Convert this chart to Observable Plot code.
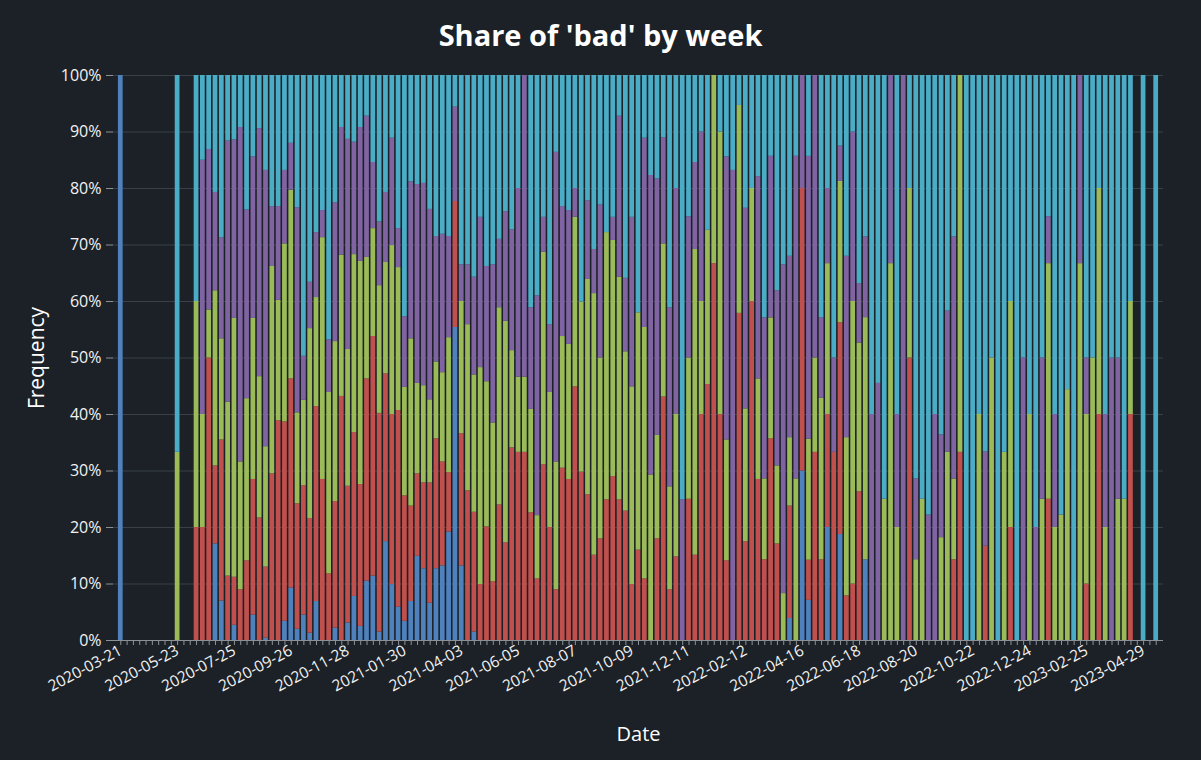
<!DOCTYPE html>
<html>
<head>
<meta charset="utf-8">
<script src="https://cdn.jsdelivr.net/npm/d3@7"></script>
<script src="https://cdn.jsdelivr.net/npm/@observablehq/plot@0.6"></script>
<style>
  html, body { margin: 0; padding: 0; background: #1b2127; }
  #wrap { width: 1201px; height: 760px; overflow: hidden; background: #1b2127; font-family: "Open Sans", Lato, sans-serif; }
  #title { height: 60px; box-sizing: border-box; padding-top: 12px; text-align: center; color: #ffffff; font-weight: 700; font-size: 29px; line-height: 46px; }
</style>
</head>
<body>
<div id="wrap">
  <div id="title">Share of 'bad' by week</div>
  <div id="chart"></div>
</div>
<script>
// ---- data ----
const startWeek = "2020-03-21";
const weekCount = 165;
const seriesNames = ["Type 1", "Type 2", "Type 3", "Type 4", "Type 5"];
const seriesColors = ["#4F81BD", "#C0504D", "#9BBB59", "#8064A2", "#4BACC6"];
const tickLabels = ["2020-03-21","2020-05-23","2020-07-25","2020-09-26","2020-11-28","2021-01-30","2021-04-03","2021-06-05","2021-08-07","2021-10-09","2021-12-11","2022-02-12","2022-04-16","2022-06-18","2022-08-20","2022-10-22","2022-12-24","2023-02-25","2023-04-29"];

// week offsets (weeks since startWeek) that have data
const weekOffsets = [0, 9,
  12,13,14,15,16,17,18,19,20,21,
  22,23,24,25,26,27,28,29,30,31,
  32,33,34,35,36,37,38,39,40,41,
  42,43,44,45,46,47,48,49,50,51,
  52,53,54,55,56,57,58,59,60,61,
  62,63,64,65,66,67,68,69,70,71,
  72,73,74,75,76,77,78,79,80,81,
  82,83,84,85,86,87,88,89,90,91,
  92,93,94,95,96,97,98,99,100,101,
  102,103,104,105,106,107,108,109,110,111,
  112,113,114,115,116,117,118,119,120,121,
  122,123,124,125,126,127,128,129,130,131,
  132,133,134,135,136,137,138,139,140,141,
  142,143,144,145,146,147,148,149,150,151,
  152,153,154,155,156,157,158,159,160,
  162,164];

const blue = [100, 0,
  0,0,0,17.1,7.0,0,2.7,0,0,4.5,
  0,0.4,0,0,3.4,9.3,2.0,4.5,1.3,6.9,
  0,0,2.2,0,3.1,7.8,2.5,10.5,11.4,1.5,
  17.5,9.9,5.9,3.4,6.9,14.9,12.7,6.6,12.7,13.2,
  19.2,55.4,13.2,0,1.5,0,0,0,0,0,
  0,0,0,0,0,0,0,0,0,0,
  0,0,0,0,0,0,0,0,0,0,
  0,0,0,0,0,0,0,0,0,0,
  0,0,0,0,0,0,0,0,0,0,
  0,0,0,0,3.9,0,30,7.1,0,0,
  20,0,18.75,0,0,0,14.3,0,0,0,
  0,0,0,0,0,0,0,0,0,0,
  0,0,0,0,0,0,0,0,0,0,
  0,0,0,0,0,0,0,0,0,0,
  0,0,0,0,0,0,0,0,0,
  0,0];

const red = [0, 0,
  20,20,50,13.8,28.5,11.4,8.5,9.0,14.1,24.0,
  21.7,12.6,29.5,38.9,35.3,37.0,22.2,22.9,20.3,34.5,
  28.5,11.8,22.4,43.2,24.2,29.0,25.1,35.8,42.4,38.7,
  29.7,30.1,34.8,22.2,16.9,14.6,15.2,21.3,23.0,18.4,
  10.5,22.3,23.4,26.5,21.2,9.9,20.1,10.4,24.0,17.3,
  34.1,33.3,33.3,22.6,10.9,31.1,20.0,9.0,30.5,28.5,
  44.9,29.8,25.8,15.1,18.0,24.9,29.0,24.9,22.9,9.9,
  16.0,10.9,0,18.0,43.1,9.0,14.8,0,25,15.1,
  40,45.3,66.7,40,14.1,0,57.9,17.5,60,28.5,
  14.3,35.7,17.1,0,19.9,0,50,7.1,33.3,14.3,
  20,33.3,37.5,7.9,10,26.3,0,0,0,0,
  0,0,0,50,0,0,0,0,0,0,
  14.3,33.3,0,0,0,16.7,0,0,0,20,
  0,0,0,0,0,25,0,0,0,0,
  0,10,0,40,0,0,0,0,40,
  0,0];

const green = [0, 33.3,
  40,20,8.5,31.0,17.9,30.8,45.8,22.6,28.7,28.5,
  25.0,21.3,36.7,21.3,31.5,33.4,16.1,15.1,33.6,19.3,
  42.8,32.1,28.3,25.0,24.2,31.5,39.5,21.5,19.1,22.6,
  19.7,29.9,25.3,19.2,29.6,16.0,17.2,14.7,13.6,15.8,
  23.9,0,23.4,29.4,24.3,38.4,25.7,28.1,34.9,39.2,
  17.2,13.3,13.3,18.3,11.2,37.6,23.9,22.6,23.3,23.9,
  30.0,30.1,38.1,46.3,32.0,47.3,41.8,39.4,28.2,35.0,
  42.0,44.5,29.3,18.3,27.1,18.2,25.2,0,25,54.1,
  20,27.3,33.3,50,21.4,0,36.8,23.5,20,17.8,
  14.3,21.4,13.8,8.3,12.1,28.6,0,21.4,16.7,28.6,
  26.7,0,25,28.0,50,26.3,42.9,0,0,25,
  66.7,20,0,30,14.3,25,0,0,18.2,33.3,
  14.3,66.7,0,0,40,0,50,0,33.3,40,
  0,0,40,0,25,41.7,20,22.2,44.4,0,
  66.7,30,50,40,20,0,25,25,20,
  0,0];

const purple = [0, 0,
  0,45,28.4,17.4,17.9,46.2,31.6,59.2,33.4,28.6,
  43.9,48.9,10.6,16.6,13.0,8.3,36.3,7.8,8.2,11.5,
  4.8,9.3,24.6,22.6,37.2,19.9,23.7,25.0,11.7,11.3,
  12.4,19.0,6.9,12.5,27.8,35.2,35.8,33.7,22.2,24.5,
  17.9,16.7,6.5,10.6,17.3,26.6,20.4,28.0,12.1,19.4,
  21.4,33.4,53.4,18.0,38.9,6.2,12.0,54.8,23.0,23.7,
  5.1,0,13.9,7.8,27.1,0,4.1,28.5,13.0,30.0,
  0,33.5,53.0,45.4,18.8,31.7,40.0,24.9,25,15.4,
  30,0,0,0,50.1,83.2,0,35.5,0,35.8,
  28.5,28.6,31.0,58.2,32.1,57.1,20,50.0,50,14.3,
  13.3,16.7,6.25,32.1,30,10.5,14.3,40,45.5,0,
  33.3,20,100,0,14.3,0,22.2,40,18.2,25,
  42.9,0,0,0,0,16.7,0,0,0,0,
  0,50,0,20,25,8.3,20,0,0,0,
  33.3,10,0,0,20,50,25,0,0,
  0,0];

const cyan = [0, 66.7,
  40,15,13.1,20.7,28.7,11.6,11.4,9.2,23.8,14.4,
  9.4,16.8,23.2,23.2,16.8,12.0,23.4,49.7,36.6,27.8,
  23.9,46.8,22.5,9.2,11.3,11.8,9.2,7.2,15.4,25.9,
  20.7,11.1,27.1,42.7,18.8,19.3,19.1,23.7,28.5,28.1,
  28.5,5.6,33.5,33.5,35.7,25.1,33.8,33.5,29.0,24.1,
  27.3,20.0,0,41.1,39.0,25.1,44.1,13.6,23.2,23.9,
  20.0,40.1,22.2,30.8,22.9,27.8,25.1,7.2,35.9,25.1,
  42.0,11.1,17.7,18.3,11.0,41.1,20.0,75.1,25,15.4,
  10,27.4,0,10,14.4,16.8,5.3,23.5,20,17.9,
  42.9,14.3,38.1,33.5,32.0,14.3,0,14.3,0,42.9,
  20,50,12.5,32.0,10,36.8,28.6,60,54.5,75,
  0,60,0,20,71.4,75,77.8,60,63.6,41.7,
  28.6,0,100,100,60,66.7,50,100,66.7,40,
  100,50,60,80,50,25,60,77.8,55.6,100,
  0,50,50,20,60,50,50,75,40,
  100,100];

// ---- build table ----
const fmt = d3.utcFormat("%Y-%m-%d");
const start = d3.utcParse("%Y-%m-%d")(startWeek);
const allWeeks = d3.range(weekCount).map(i => fmt(d3.utcDay.offset(start, 7 * i)));
const seriesValues = [blue, red, green, purple, cyan];
const rows = [];
weekOffsets.forEach((w, i) => {
  seriesValues.forEach((arr, s) => {
    rows.push({ week: allWeeks[w], series: seriesNames[s], value: arr[i] });
  });
});
const labelSet = new Set(tickLabels);

const chart = Plot.plot({
  width: 1201,
  height: 700,
  marginTop: 15,
  marginBottom: 120,
  marginLeft: 113,
  marginRight: 38,
  style: { background: "transparent", color: "#f2f2f2", fontFamily: "'Open Sans', Lato, sans-serif", fontSize: "16px" },
  x: { type: "band", domain: allWeeks, paddingInner: 0.25, paddingOuter: 0.78, align: 0.5 },
  y: { domain: [0, 1] },
  color: { type: "ordinal", domain: seriesNames, range: seriesColors },
  marks: [
    Plot.gridY({ ticks: d3.range(0.1, 1.01, 0.1), stroke: "#394047", strokeOpacity: 1 }),
    Plot.barY(rows, { x: "week", y: "value", fill: "series", offset: "normalize", order: seriesNames }),
    Plot.axisY({ ticks: d3.range(0, 1.01, 0.1), tickFormat: d3.format(".0%"), tickSize: 7, tickPadding: 5, stroke: "#8c9196", fontSize: 16, label: null }),
    Plot.axisX({ ticks: allWeeks, tickFormat: d => labelSet.has(d) ? d : "", tickRotate: -28, tickSize: 5, tickPadding: 4, stroke: "#8c9196", fontSize: 15.5, label: null }),
    Plot.ruleY([0], { stroke: "#8c9196" }),
    Plot.text(["Frequency"], { frameAnchor: "left", textAnchor: "middle", dx: -76, rotate: -90, fontSize: 21, fill: "#ffffff" }),
    Plot.text(["Date"], { frameAnchor: "bottom", dy: 100, fontSize: 20, fill: "#ffffff" })
  ]
});
document.getElementById("chart").appendChild(chart);
</script>
</body>
</html>
